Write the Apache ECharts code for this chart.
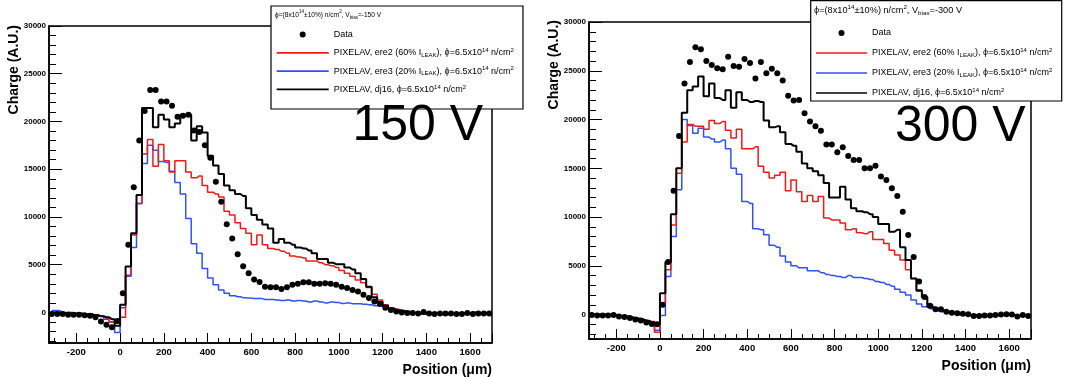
<!DOCTYPE html>
<html>
<head>
<meta charset="utf-8">
<title>Charge vs position, 150 V and 300 V</title>
<script src="https://cdn.jsdelivr.net/npm/echarts@6/dist/echarts.min.js"></script>
<style>
  html, body { margin: 0; padding: 0; background: #fff; }
  #main { width: 1067px; height: 377px; }
</style>
</head>
<body>
<div id="main"></div>
<script>
// bin centres in um (25 um bins, -325 .. 1700)
const position = [
  -312.5, -287.5, -262.5, -237.5, -212.5, -187.5, -162.5, -137.5, -112.5, -87.5, -62.5, -37.5, -12.5,
  12.5, 37.5, 62.5, 87.5, 112.5, 137.5, 162.5, 187.5, 212.5, 237.5,
  262.5, 287.5, 312.5, 337.5, 362.5, 387.5, 412.5, 437.5, 462.5, 487.5,
  512.5, 537.5, 562.5, 587.5, 612.5, 637.5, 662.5, 687.5, 712.5, 737.5,
  762.5, 787.5, 812.5, 837.5, 862.5, 887.5, 912.5, 937.5, 962.5, 987.5,
  1012.5, 1037.5, 1062.5, 1087.5, 1112.5, 1137.5, 1162.5, 1187.5,
  1212.5, 1237.5, 1262.5, 1287.5, 1312.5, 1337.5, 1362.5, 1387.5, 1412.5, 1437.5,
  1462.5, 1487.5, 1512.5, 1537.5, 1562.5, 1587.5, 1612.5, 1637.5, 1662.5, 1687.5
];

// ---- 150 V ----
const data150 = [
  -150, -150, -150, -250, -250, -250, -300, -350, -500, -950, -1300, -1550, -900,
  2000, 7100, 13100, 18000, 21100, 23300, 23300, 22100, 22100, 21650,
  20500, 20600, 20700, 19050, 18900, 17500, 16200, 13700, 11600, 9250,
  7750, 6100, 4850, 4100, 3450, 3200, 2700, 2650, 2650, 2450,
  2650, 2900, 3000, 3150, 3150, 3000, 3000, 3050, 3000, 2900,
  2700, 2550, 2350, 2200, 1850, 1500, 1150, 900,
  500, 250, 100, 0, -50, -50, -100, 50, -100, -150,
  -100, -100, -100, -150, -150, -50, -150, -100, -100, -100
];
const ere2_150 = [
  0, -100, -100, 0, -100, -100, -200, -200, -300, -400, -600, -1000, -1100,
  -500, 3900, 8100, 11400, 16600, 18100, 15300, 17600, 15900, 14700,
  15900, 15900, 14700, 14100, 14300, 13300, 12600, 12400, 12100, 10600,
  10200, 9400, 8800, 8300, 7100, 8100, 7100, 6700, 6600, 6400,
  6200, 5900, 5800, 5700, 5400, 5400, 5200, 5000, 4900, 4700,
  4400, 4100, 3800, 3400, 3100, 2600, 1900, 1300,
  800, 500, 300, 200, 100, 0, -100, -100, -50, -100,
  -150, -100, -100, -50, -100, -150, -100, -50, 0, 0
];
const ere3_150 = [
  200, 200, 0, 0, -100, -100, -200, -300, -300, -400, -700, -1000, -2100,
  500, 3800, 6800, 11400, 15600, 17500, 17000, 15800, 15700, 14800,
  13600, 12400, 9850, 7200, 6200, 4600, 3600, 2900, 2350, 2000,
  1750, 1650, 1550, 1500, 1450, 1450, 1350, 1350, 1300, 1250,
  1300, 1200, 1250, 1200, 1100, 1200, 1100, 1000, 1100, 1050,
  950, 1000, 900, 900, 850, 800, 700, 650,
  550, 450, 300, 200, 100, 0, -50, -100, -100, -50,
  -100, -150, -100, -100, -50, -100, -50, -100, -50, -50
];
const dj16_150 = [
  0, 0, -100, -100, -100, -100, -200, -200, -300, -400, -500, -700, -1400,
  800, 4800, 8300, 12300, 21400, 21400, 19400, 20700, 20200, 19400,
  19800, 20700, 20700, 18000, 19500, 18850, 16400, 15400, 14500, 13300,
  12800, 12400, 12200, 10900, 10200, 9700, 9200, 8800, 7300, 7700,
  7300, 7100, 6800, 6700, 6500, 6200, 5600, 5600, 5200, 5050,
  5050, 4700, 4500, 4100, 3500, 2700, 1600, 1100,
  700, 400, 200, 100, 0, -50, -100, -100, -50, -100,
  -200, -200, -150, -150, -100, -100, 0, -100, -50, 0
];

// ---- 300 V ----
const data300 = [
  -50, -100, -100, -100, -50, -200, -250, -350, -500, -600, -800, -950, -1000,
  1000, 5400, 12700, 18300, 23700, 25900, 27400, 27200, 26000, 25600,
  25250, 25150, 26450, 25500, 25400, 26200, 25800, 24200, 25900, 24750,
  25200, 24750, 24000, 22450, 21950, 22000, 20650, 19800, 19300, 18850,
  17450, 17450, 16650, 17150, 16250, 15850, 15850, 15000, 15000, 15250,
  14150, 13800, 12950, 12150, 10550, 8150, 5900, 3400,
  1800, 900, 550, 550, 300, 200, 150, 100, 50, -150,
  -150, -100, -100, -50, 0, 50, 0, -200, -50, -150
];
const ere2_300 = [
  0, 0, 0, 0, -50, -100, -150, -250, -350, -500, -600, -700, -1800,
  1200, 4600, 9200, 14500, 17700, 19500, 19300, 19300, 19000, 19900,
  19600, 19800, 18900, 18100, 19000, 17000, 17000, 17200, 15200, 14600,
  14000, 14300, 14600, 12700, 13800, 12600, 11600, 12200, 11600, 12100,
  9900, 9700, 9700, 9400, 8700, 8800, 8400, 8300, 8500, 7700,
  7700, 7300, 6600, 6100, 5600, 4600, 3700, 2400,
  1700, 1000, 650, 450, 300, 200, 100, 0, -50, -100,
  -200, -150, -100, -50, -100, -50, 0, -100, -50, 0
];
const ere3_300 = [
  0, 0, 50, 50, 0, -100, -200, -300, -400, -500, -600, -900, -1600,
  -100, 3900, 8000, 12800, 20000, 19400, 18600, 19100, 18200, 18000,
  17700, 17900, 17000, 15000, 14400, 11600, 11400, 8800, 8700, 8200,
  7100, 6900, 6000, 5400, 5000, 4800, 4800, 4500, 4500, 4300,
  4100, 4000, 3900, 3800, 4000, 3800, 3800, 3700, 3600, 3400,
  3300, 3100, 2900, 2600, 2300, 2000, 1500, 1100,
  800, 600, 400, 300, 200, 100, 0, -50, -100, -100,
  -50, -100, -50, -100, -50, 0, -50, -100, -50, -50
];
const dj16_300 = [
  0, 0, 0, -50, -50, -150, -200, -300, -400, -500, -650, -800, -1000,
  2200, 5400, 10300, 15000, 20700, 23000, 23400, 24400, 22400, 23700,
  22200, 22000, 23000, 21200, 22800, 22000, 21800, 21900, 21800, 19900,
  19200, 19300, 18700, 17500, 17300, 16700, 15500, 15000, 14700, 14300,
  13500, 12000, 12000, 13100, 11800, 10900, 10600, 10500, 10300, 10000,
  9300, 9300, 8500, 8700, 6900, 5600, 3700, 2500,
  1800, 800, 600, 400, 300, 200, 100, 0, -50, -50,
  -100, -100, 0, -50, 0, 0, -50, -150, -100, -100
];

const FONT = '"Liberation Sans", Arial, Helvetica, sans-serif';
const RED = '#f21818';
const BLUE = '#2f52f7';
const BLACK = '#000';

const N_DATA = 'Data';
const N_ERE2 = 'PIXELAV, ere2';
const N_ERE3 = 'PIXELAV, ere3';
const N_DJ16 = 'PIXELAV, dj16';

const legendLabel = {};
legendLabel[N_DATA] = 'Data';
legendLabel[N_ERE2] = 'PIXELAV, ere2 (60% I{sub|LEAK}), ϕ=6.5x10{sup|14} n/cm{sup|2}';
legendLabel[N_ERE3] = 'PIXELAV, ere3 (20% I{sub|LEAK}), ϕ=6.5x10{sup|14} n/cm{sup|2}';
legendLabel[N_DJ16] = 'PIXELAV, dj16, ϕ=6.5x10{sup|14} n/cm{sup|2}';

// thin bar used as the legend mark of the histogram lines
const LINE_ICON = 'path://M0,0L60,0L60,2L0,2Z';

const richSmall = {
  sup: { fontSize: 6, lineHeight: 7, verticalAlign: 'top', fontFamily: FONT, color: '#000' },
  sub: { fontSize: 6, lineHeight: 7, verticalAlign: 'bottom', fontFamily: FONT, color: '#000' }
};

function pairs(vals) {
  return position.map(function (x, i) { return [x, vals[i]]; });
}

function xAxisFor(gi) {
  return {
    type: 'value', gridIndex: gi, min: -325, max: 1700,
    minInterval: 200, maxInterval: 200,
    axisLine: { show: true, onZero: false, lineStyle: { color: '#000', width: 1.5 } },
    axisTick: { show: true, inside: true, length: 10, lineStyle: { color: '#000', width: 1 } },
    minorTick: { show: true, splitNumber: 4, length: 5, lineStyle: { color: '#000', width: 1 } },
    splitLine: { show: false },
    axisLabel: {
      margin: 4, fontSize: 9.5, fontWeight: 'bold', color: '#000', fontFamily: FONT,
      formatter: function (v) { return v % 200 === 0 ? String(v) : ''; }
    }
  };
}

function yAxisFor(gi, ymin) {
  return {
    type: 'value', gridIndex: gi, min: ymin, max: 30000,
    minInterval: 5000, maxInterval: 5000,
    axisLine: { show: true, onZero: false, lineStyle: { color: '#000', width: 1.5 } },
    axisTick: { show: true, inside: true, length: 13, lineStyle: { color: '#000', width: 1 } },
    minorTick: { show: true, splitNumber: 5, length: 7, lineStyle: { color: '#000', width: 1 } },
    splitLine: { show: false },
    axisLabel: {
      margin: 3, fontSize: 8, fontWeight: 'bold', color: '#000', fontFamily: FONT,
      formatter: function (v) { return v % 5000 === 0 ? String(v) : ''; }
    }
  };
}

function panelSeries(gi, dat, ere2, ere3, dj16) {
  const common = { xAxisIndex: gi, yAxisIndex: gi, type: 'line', step: 'middle',
    symbol: 'none', showSymbol: false, silent: true, clip: true };
  return [
    Object.assign({ name: N_ERE3, data: pairs(ere3), lineStyle: { color: BLUE, width: 1.5 }, itemStyle: { color: BLUE }, z: 2 }, common),
    Object.assign({ name: N_ERE2, data: pairs(ere2), lineStyle: { color: RED, width: 1.5 }, itemStyle: { color: RED }, z: 3 }, common),
    Object.assign({ name: N_DJ16, data: pairs(dj16), lineStyle: { color: BLACK, width: 2 }, itemStyle: { color: BLACK }, z: 4 }, common),
    { name: N_DATA, type: 'scatter', xAxisIndex: gi, yAxisIndex: gi, data: pairs(dat),
      symbol: 'circle', symbolSize: 6, itemStyle: { color: '#000', opacity: 1 }, silent: true, z: 5 }
  ];
}

function legendFor(left, top, padTop, padLeft, iconW, gap) {
  return {
    orient: 'vertical', left: left, top: top, padding: [padTop, 0, 0, padLeft],
    itemWidth: iconW, itemHeight: 6, itemGap: gap, selectedMode: false, z: 6,
    data: [
      { name: N_DATA, icon: 'circle', itemStyle: { color: '#000', opacity: 1 } },
      { name: N_ERE2, icon: LINE_ICON, itemStyle: { color: RED } },
      { name: N_ERE3, icon: LINE_ICON, itemStyle: { color: BLUE } },
      { name: N_DJ16, icon: LINE_ICON, itemStyle: { color: BLACK } }
    ],
    formatter: function (n) { return legendLabel[n]; },
    textStyle: { fontSize: 9, lineHeight: 11, color: '#000', fontFamily: FONT, rich: richSmall }
  };
}

function headerText(x, y, size, volts) {
  return {
    type: 'text', x: x, y: y, z: 7,
    style: {
      text: 'ϕ=(8x10{sup|14}±10%) n/cm{sup|2}, V{sub|bias}=-' + volts + ' V',
      fontSize: size, lineHeight: size + 3, fontFamily: FONT, fill: '#000',
      align: 'left', verticalAlign: 'middle',
      rich: {
        sup: { fontSize: size * 0.68, lineHeight: size * 0.78, verticalAlign: 'top', fontFamily: FONT },
        sub: { fontSize: size * 0.68, lineHeight: size * 0.78, verticalAlign: 'bottom', fontFamily: FONT }
      }
    }
  };
}

function plainText(x, y, txt, size, weight, align, rot) {
  return {
    type: 'text', x: x, y: y, rotation: rot || 0, z: 7,
    style: { text: txt, fontSize: size, fontWeight: weight, fontFamily: FONT, fill: '#000',
      align: align, verticalAlign: 'middle' }
  };
}

const chart = echarts.init(document.getElementById('main'));
chart.setOption({
  animation: false,
  backgroundColor: '#fff',
  grid: [
    { left: 49, top: 26, width: 443, height: 317, show: true, borderColor: '#000', borderWidth: 1.5, backgroundColor: 'transparent' },
    { left: 589, top: 22, width: 442, height: 317, show: true, borderColor: '#000', borderWidth: 1.5, backgroundColor: 'transparent' }
  ],
  xAxis: [xAxisFor(0), xAxisFor(1)],
  yAxis: [yAxisFor(0, -3200), yAxisFor(1, -2500)],
  legend: [
    legendFor(271, 6, 23, 5.7, 52, 7.3),
    legendFor(810.7, 1, 26.5, 5.3, 51, 9)
  ],
  graphic: [
    { type: 'rect', z: 5, shape: { x: 271, y: 6, width: 252, height: 103 },
      style: { fill: '#fff', stroke: '#000', lineWidth: 1.2 } },
    { type: 'rect', z: 5, shape: { x: 810.7, y: 0.7, width: 251, height: 100.3 },
      style: { fill: '#fff', stroke: '#000', lineWidth: 1.2 } },
    headerText(275, 15, 6.6, 150),
    headerText(814, 10, 9.2, 300),
    plainText(352.5, 126, '150 V', 50, 'normal', 'left'),
    plainText(895, 127, '300 V', 50, 'normal', 'left'),
    plainText(14, 25, 'Charge (A.U.)', 14, 'bold', 'right', Math.PI / 2),
    plainText(554, 20, 'Charge (A.U.)', 14, 'bold', 'right', Math.PI / 2),
    plainText(492, 370, 'Position (μm)', 14, 'bold', 'right'),
    plainText(1031, 366, 'Position (μm)', 14, 'bold', 'right')
  ],
  series: panelSeries(0, data150, ere2_150, ere3_150, dj16_150)
    .concat(panelSeries(1, data300, ere2_300, ere3_300, dj16_300))
});
</script>
</body>
</html>
